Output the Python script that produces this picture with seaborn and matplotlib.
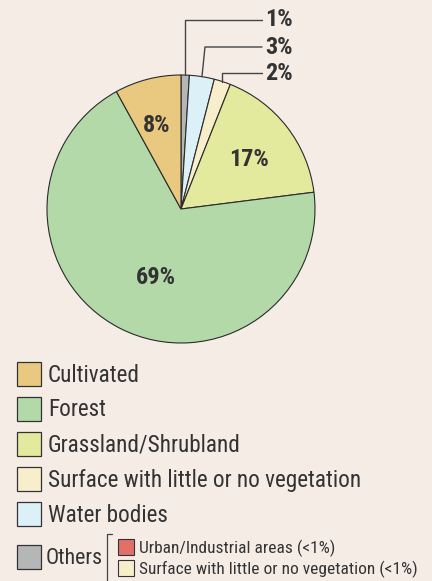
import numpy as np
import matplotlib
matplotlib.use("Agg")
import matplotlib.pyplot as plt
import seaborn as sns
from matplotlib.patches import Rectangle
from matplotlib import font_manager as fm

# ---- data ----
categories = ["Others", "Water bodies", "Surface with little or no vegetation",
              "Grassland/Shrubland", "Forest", "Cultivated"]
values = [1, 3, 2, 17, 69, 8]
slice_labels = ["1%", "3%", "2%", "17%", "69%", "8%"]
colors = ["#b5b6b8", "#dcf0f8", "#f8eecb", "#e3ea9e", "#b3d9a8", "#e9c97f"]

legend_labels = ["Cultivated", "Forest", "Grassland/Shrubland",
                 "Surface with little or no vegetation", "Water bodies"]
legend_colors = ["#e9c97f", "#b3d9a8", "#e3ea9e", "#f8eecb", "#dcf0f8"]
others_label = "Others"
others_color = "#b5b6b8"
others_sub_labels = ["Urban/Industrial areas (<1%)",
                     "Surface with little or no vegetation (<1%)"]
others_sub_colors = ["#e07068", "#f8eecb"]

sns.set_theme(style="white")
plt.rcParams["font.family"] = ["Roboto", "DejaVu Sans"]
BG = "#f5ece6"
TXT = "#333333"

# ---- choose a condensed font if available ----
def is_cond(f):
    s = f.stretch
    if isinstance(s, str) and "condensed" in s and "expanded" not in s:
        return True
    if isinstance(s, (int, float)) and s < 500:
        return True
    return ("Condensed" in f.name) or ("Narrow" in f.name)

conds = [f for f in fm.fontManager.ttflist if is_cond(f)]
pref = ["Liberation Sans Narrow", "Roboto Condensed", "Open Sans Condensed",
        "Noto Sans", "Noto Sans Condensed", "DejaVu Sans Condensed"]
chosen = None
for p in pref:
    fam = [f for f in conds if f.name == p]
    if fam:
        chosen = fam
        break
if chosen is None and conds:
    nm = conds[0].name
    chosen = [f for f in conds if f.name == nm]

def pick(weight_target):
    if not chosen:
        return None
    c = [f for f in chosen if "Italic" not in f.fname and "italic" not in str(f.style)]
    if not c:
        c = chosen
    def wnum(f):
        w = f.weight
        if isinstance(w, str):
            w = {"normal": 400, "regular": 400, "bold": 700, "light": 300,
                 "medium": 500, "semibold": 600, "black": 900}.get(w, 400)
        return w
    c.sort(key=lambda f: (abs(wnum(f) - weight_target),
                          0 if f.stretch in ("condensed", 300) else 1))
    return c[0].fname

reg_file = pick(400)
bold_file = pick(700)

def fp(size, bold=False):
    fn = bold_file if bold else reg_file
    if fn:
        return fm.FontProperties(fname=fn, size=size)
    return fm.FontProperties(family=["Roboto", "DejaVu Sans"], size=size,
                             weight="bold" if bold else "normal")

W, H = 432, 581
fig = plt.figure(figsize=(W / 100, H / 100), dpi=100, facecolor=BG)

cx, cy, r = 181, 209, 134
ax = fig.add_axes([(cx - r) / W, (H - (cy + r)) / H, 2 * r / W, 2 * r / H])
ax.set_facecolor(BG)
wedges, _ = ax.pie(values, colors=colors, startangle=90, counterclock=False,
                   radius=1, wedgeprops=dict(edgecolor="#2b2b2b", linewidth=0.8))
ax.set_xlim(-1, 1)
ax.set_ylim(-1, 1)
ax.set_aspect("equal")
ax.axis("off")

def px2d(x, y):
    return (x - cx) / r, (cy - y) / r

big_texts = []
inside = {"Cultivated": (157, 126), "Grassland/Shrubland": (249, 160), "Forest": (156, 277)}
for i, cat in enumerate(categories):
    if cat in inside:
        x, y = px2d(*inside[cat])
        t = ax.text(x, y, slice_labels[i], ha="center", va="center",
                    fontproperties=fp(16, True), color=TXT)
        big_texts.append(t)

levels = [20, 47, 73]
bend = [None, (205, 47), None]
line_end_x = 262
for i in range(3):
    w = wedges[i]
    mid = np.deg2rad((w.theta1 + w.theta2) / 2)
    x0, y0 = np.cos(mid), np.sin(mid)
    ly = px2d(0, levels[i])[1]
    xe = px2d(line_end_x, 0)[0]
    if bend[i] is None:
        xs = [x0, x0, xe]
        ys = [y0, ly, ly]
    else:
        bx, by = px2d(*bend[i])
        xs = [x0, bx, xe]
        ys = [y0, by, by]
    ax.plot(xs, ys, color="#444444", lw=1.0, clip_on=False)
    t = ax.text(px2d(265, 0)[0], ly, slice_labels[i], ha="left", va="center",
                fontproperties=fp(16, True), color=TXT)
    big_texts.append(t)

def fx(x):
    return x / W

def fy(y):
    return 1 - y / H

legend_texts = []
box = 24
for k, (lab, col) in enumerate(zip(legend_labels, legend_colors)):
    top = 362 + 35 * k
    fig.add_artist(Rectangle((fx(17), fy(top + box)), box / W, box / H,
                             facecolor=col, edgecolor="#333333", lw=0.9,
                             transform=fig.transFigure))
    t = fig.text(fx(48), fy(top + box / 2 + 1), lab, ha="left", va="center",
                 fontproperties=fp(16), color=TXT)
    legend_texts.append(t)

top = 545
fig.add_artist(Rectangle((fx(17), fy(top + box)), box / W, box / H,
                         facecolor=others_color, edgecolor="#333333", lw=0.9,
                         transform=fig.transFigure))
others_text = fig.text(fx(46), fy(top + box / 2 + 1), others_label, ha="left",
                       va="center", fontproperties=fp(16), color=TXT)
fig.add_artist(plt.Line2D([fx(107), fx(107), fx(112)], [fy(581), fy(534), fy(534)],
                          color="#444444", lw=0.9, transform=fig.transFigure))
small_texts = []
sb = 16
for k, (lab, col) in enumerate(zip(others_sub_labels, others_sub_colors)):
    tt = 539 + 21 * k
    fig.add_artist(Rectangle((fx(118), fy(tt + sb)), sb / W, sb / H,
                             facecolor=col, edgecolor="#333333", lw=0.8,
                             transform=fig.transFigure))
    t = fig.text(fx(139), fy(tt + sb / 2 + 1), lab, ha="left", va="center",
                 fontproperties=fp(11), color=TXT)
    small_texts.append(t)

# ---- fit font sizes to reference text extents ----
fig.canvas.draw()
rend = fig.canvas.get_renderer()

def fit(group, ref_text, target_w, max_size):
    wpx = ref_text.get_window_extent(rend).width
    s0 = ref_text.get_fontsize()
    s = min(s0 * target_w / wpx, max_size)
    for t in group:
        t.set_fontsize(s)
    return s

s_leg = fit(legend_texts, legend_texts[3], 312, 17.5)
others_text.set_fontsize(s_leg)
fit([others_text], others_text, 57, s_leg)
fit(small_texts, small_texts[1], 280, 12.5)
fit(big_texts, big_texts[1], 44, 17.5)

fig.savefig("out.png", dpi=100, facecolor=BG)
